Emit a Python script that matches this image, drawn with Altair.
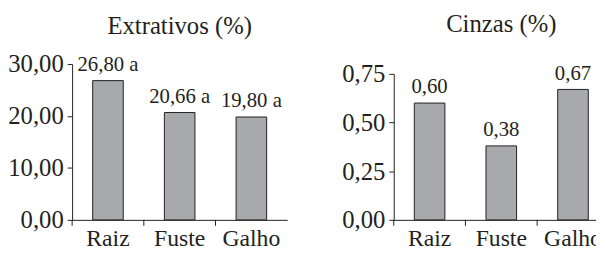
import altair as alt
import pandas as pd

categories = ["Raiz", "Fuste", "Galho"]
extrativos = [26.80, 20.66, 19.80]
extrativos_labels = ["26,80 a", "20,66 a", "19,80 a"]
cinzas = [0.60, 0.38, 0.67]
cinzas_labels = ["0,60", "0,38", "0,67"]
ext_ticks = [0, 10, 20, 30]
cin_ticks = [0, 0.25, 0.5, 0.75]

FONT = "Liberation Serif"
INK = "#231f20"
BAR = "#a7a9ac"
H = 158


def panel(values, labels, ticks, dmax, title, top, title_offset):
    df = pd.DataFrame({"cat": categories, "v": values, "lab": labels})
    x = alt.X(
        "cat:N", sort=categories, title=None,
        scale=alt.Scale(paddingInner=0, paddingOuter=0),
        axis=alt.Axis(labelAngle=0, ticks=False, labelFontSize=24, labelFont=FONT,
                      labelColor=INK, domainColor=INK, labelPadding=7, grid=False),
    )
    y = alt.Y(
        "v:Q", title=None,
        scale=alt.Scale(domain=[0, dmax], nice=False, zero=True, range=[H, top]),
        axis=alt.Axis(values=ticks, labelExpr="replace(format(datum.value, '.2f'), '.', ',')",
                      tickSize=5, tickColor=INK, domainColor=INK, labelFontSize=25,
                      labelFont=FONT, labelColor=INK, labelPadding=4, grid=False),
    )
    bars = alt.Chart(df).mark_bar(size=31, fill=BAR, stroke=INK, strokeWidth=1).encode(x=x, y=y)
    text = alt.Chart(df).mark_text(font=FONT, fontSize=21, color=INK, baseline="alphabetic", dy=-10).encode(
        x=x, y=y, text="lab:N")
    ticks_marks = alt.Chart(df).mark_rule(color=INK, strokeWidth=1).encode(
        x=alt.X("cat:N", sort=categories, bandPosition=0),
        y=alt.value(H), y2=alt.value(H + 6))
    return alt.layer(bars, text, ticks_marks).properties(
        width=218, height=H,
        title=alt.TitleParams(title, font=FONT, fontSize=25, fontWeight="normal", color=INK,
                              offset=title_offset, anchor="middle"),
    )


left = panel(extrativos, extrativos_labels, ext_ticks, 30, "Extrativos (%)", 0, 13)
right = panel(cinzas, cinzas_labels, cin_ticks, 0.75, "Cinzas (%)", 10, 25)

chart = alt.hconcat(left, right, spacing=55).properties(
    autosize=alt.AutoSizeParams(type="none"),
    padding={"left": 65, "top": 54, "right": 531, "bottom": 192},
).configure_view(stroke=None)

chart.save("out.html", embed_options={"renderer": "svg", "actions": False})
